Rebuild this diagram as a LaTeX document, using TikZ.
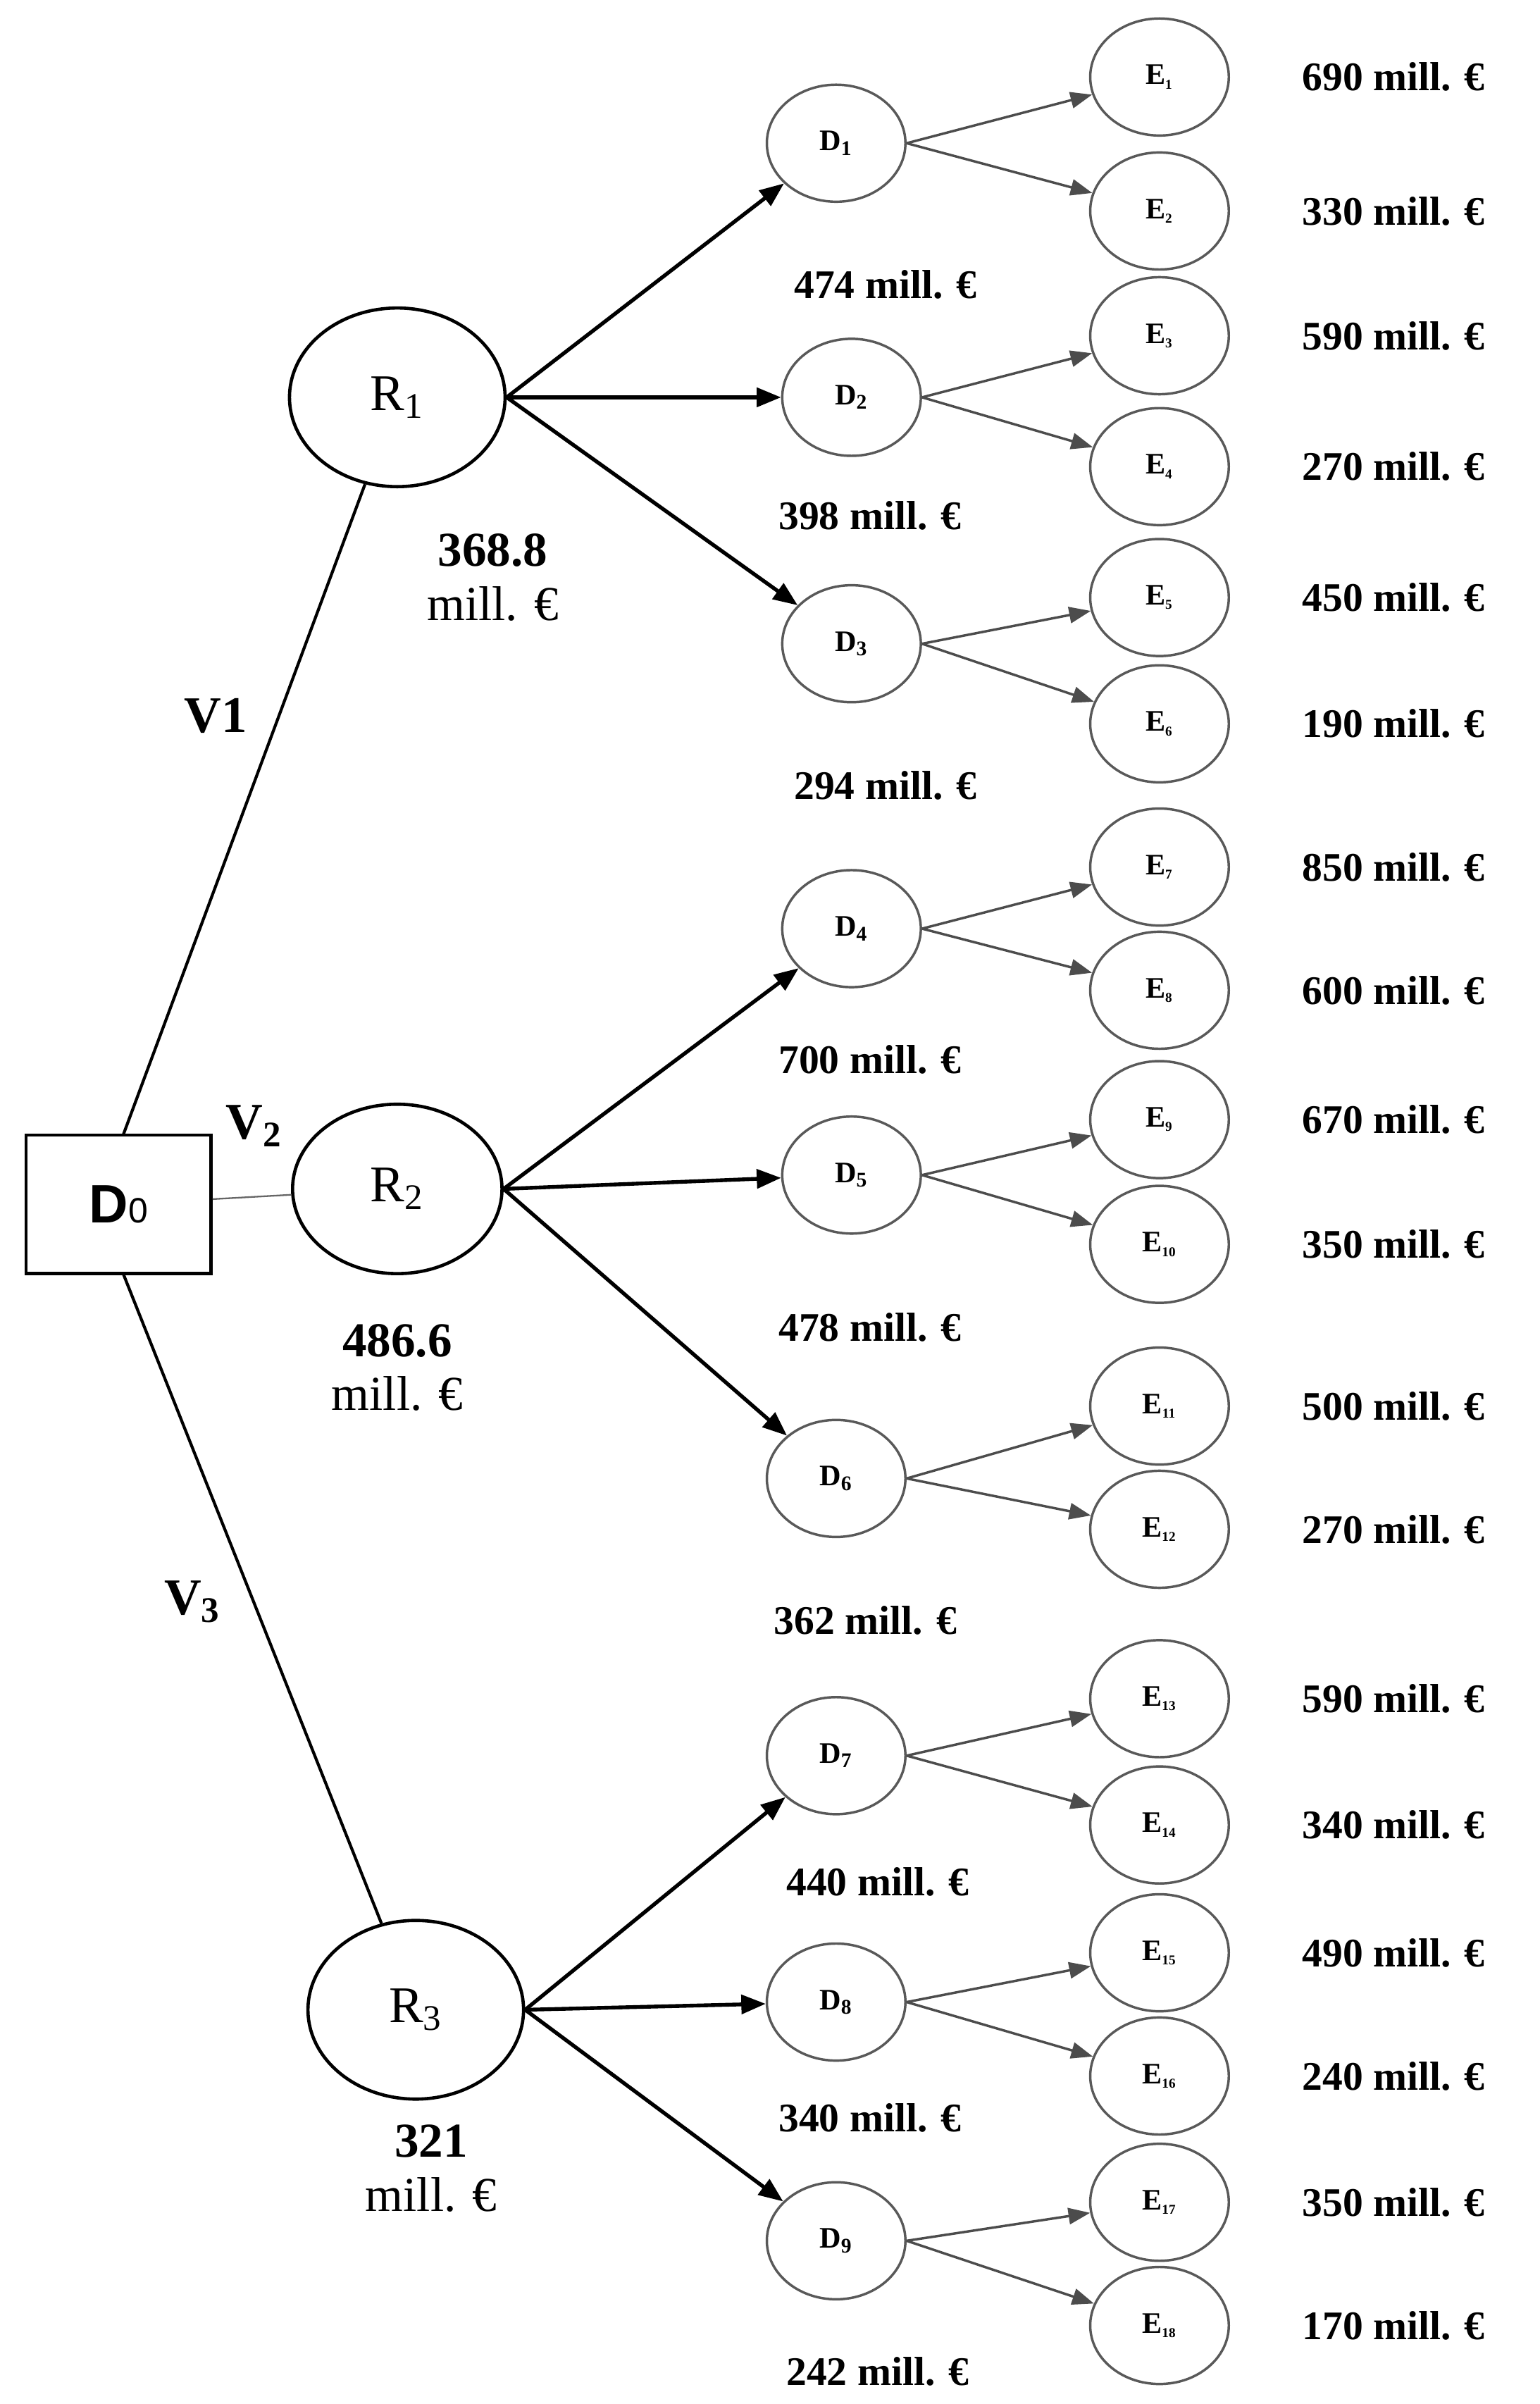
\documentclass[tikz,border=0pt]{standalone}
\usepackage{fontspec}
\setmainfont{Liberation Serif}
\newfontfamily\sansf{Liberation Sans}
\usetikzlibrary{shapes.geometric,arrows.meta}
\begin{document}
\begin{tikzpicture}[x=0.02cm,y=-0.02cm,
 big/.style={ellipse,draw,line width=1.2pt,minimum width=140\unitlength,inner sep=0pt,font=\fontsize{19}{20}\selectfont},
 sm/.style={ellipse,draw=black!65,line width=0.9pt,minimum width=90\unitlength,minimum height=76\unitlength,inner sep=0pt,font=\bfseries\fontsize{11}{12}\selectfont},
 val/.style={font=\bfseries\fontsize{15}{17}\selectfont},
 rl/.style={font=\fontsize{18}{20}\selectfont,align=center},
 thick1/.style={line width=1.1pt},
 bar/.style={line width=1.4pt,-{Triangle[length=9pt,width=7pt]}},
 gar/.style={draw=black!70,line width=0.9pt,-{Triangle[length=8pt,width=6pt]}}]
\setlength{\unitlength}{0.02cm}
\useasboundingbox (0,0) rectangle (1000,1561);
\node[draw,line width=1.2pt,minimum width=120\unitlength,minimum height=90\unitlength,font=\sansf\bfseries\fontsize{20}{22}\selectfont] (d0) at (77,782) {D\textmd{\fontsize{13}{14}\selectfont 0}};
\node[big,minimum height=116\unitlength] (r1) at (258,258) {R\textsubscript{1}};
\node[big,minimum width=136\unitlength,minimum height=110\unitlength] (r2) at (258,772) {R\textsubscript{2}};
\node[big,minimum height=116\unitlength] (r3) at (270,1305) {R\textsubscript{3}};
\coordinate (d0a) at (80,737); \coordinate (d0b) at (80,827);
\draw[thick1] (d0a) -- (r1);
\draw[line width=0.6pt,black!60] (d0) -- (r2);
\draw[thick1] (d0b) -- (r3);
\node[font=\bfseries\fontsize{19}{20}\selectfont] (v1) at (140,465) {V1};
\node[font=\bfseries\fontsize{19}{20}\selectfont] (v2) at (165,731) {V\textsubscript{2}};
\node[font=\bfseries\fontsize{19}{20}\selectfont] (v3) at (125,1040) {V\textsubscript{3}};
\node[rl] (l1) at (320,375) {\textbf{368.8}\\mill. €};
\node[rl] (l2) at (258,888) {\textbf{486.6}\\mill. €};
\node[rl] (l3) at (280,1408) {\textbf{321}\\mill. €};
\foreach \n/\x/\y/\p/\lx/\ly/\v in {1/543/93/r1/575/185/474, 2/553/258/r1/565/335/398, 3/553/418/r1/575/510/294, 4/553/603/r2/565/688/700, 5/553/763/r2/565/862/478, 6/543/960/r2/562/1052/362, 7/543/1140/r3/570/1222/440, 8/543/1300/r3/565/1375/340, 9/543/1455/r3/570/1540/242}{
 \node[sm] (D\n) at (\x,\y) {D\textsubscript{\n}};
 \draw[bar] (\p.east) -- (D\n);
 \node[val] (dl\n) at (\lx,\ly) {\v\ mill. €};
}
\foreach \n/\y/\d/\v in {1/50/1/690, 2/137/1/330, 3/218/2/590, 4/303/2/270, 5/388/3/450, 6/470/3/190, 7/563/4/850, 8/643/4/600, 9/727/5/670, 10/808/5/350, 11/913/6/500, 12/993/6/270, 13/1103/7/590, 14/1185/7/340, 15/1268/8/490, 16/1348/8/240, 17/1430/9/350, 18/1510/9/170}{
 \node[sm] (E\n) at (753,\y) {E\textsubscript{\tiny\n}};
 \draw[gar] (D\d.east) -- (E\n);
 \node[val] (ev\n) at (905,\y) {\v\ mill. €};
}
\end{tikzpicture}
\end{document}
